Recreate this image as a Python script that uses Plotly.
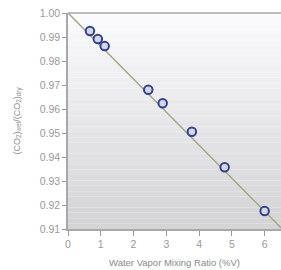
import plotly.graph_objects as go

x_vals = [0.67, 0.91, 1.12, 2.45, 2.89, 3.78, 4.78, 6.0]
y_vals = [0.9925, 0.9892, 0.9862, 0.9680, 0.9624, 0.9505, 0.9357, 0.9175]
fit_x = [0.0, 6.5]
fit_y = [1.0, 0.9105]
y_ticks = [0.91, 0.92, 0.93, 0.94, 0.95, 0.96, 0.97, 0.98, 0.99, 1.00]
y_ticklabels = ["0.91", "0.92", "0.93", "0.94", "0.95", "0.96", "0.97", "0.98", "0.99", "1.00"]
x_ticks = [0, 1, 2, 3, 4, 5, 6]

fig = go.Figure()

# gradient background
n = 40
top = (251, 251, 252)
bot = (210, 211, 213)
shapes = []
for i in range(n):
    t = (i + 0.5) / n
    c = tuple(int(round(top[k] + (bot[k] - top[k]) * t)) for k in range(3))
    shapes.append(dict(type="rect", xref="x domain", yref="y domain",
                       x0=0, x1=1, y0=1 - (i + 1) / n, y1=1 - i / n,
                       fillcolor="rgb(%d,%d,%d)" % c, line=dict(width=0), layer="below"))
# top border
shapes.append(dict(type="line", xref="x domain", yref="y domain", x0=0, x1=1, y0=1, y1=1,
                   line=dict(color="#a8a8a8", width=1.5)))

fig.add_trace(go.Scatter(x=fit_x, y=fit_y, mode="lines",
                         line=dict(color="#a2a883", width=1.5), hoverinfo="skip"))
fig.add_trace(go.Scatter(x=x_vals, y=y_vals, mode="markers",
                         marker=dict(size=8.5, color="#d4d8e6",
                                     line=dict(color="#34408f", width=2))))

fig.update_layout(
    width=281, height=270,
    margin=dict(l=68, r=0, t=13, b=41),
    paper_bgcolor="white", plot_bgcolor="white",
    showlegend=False,
    shapes=shapes,
    font=dict(family="Liberation Sans, Arial, sans-serif", color="#8a8a8a", size=10),
    xaxis=dict(range=[0, 6.5], tickvals=x_ticks, ticks="outside", ticklen=5,
               tickcolor="#999", showgrid=False, zeroline=False, showline=True,
               linecolor="#a8a8a8", linewidth=1.5, automargin=False,
               ticklabeloverflow="allow",
               title=dict(text="Water Vapor Mixing Ratio (%V)", font=dict(size=9.5, color="#8a8a8a"),
                          standoff=10),
               tickfont=dict(size=10.5, color="#999")),
    yaxis=dict(range=[0.91, 1.0], tickvals=y_ticks, ticktext=y_ticklabels, ticks="outside",
               ticklen=4, tickcolor="#999", showgrid=False, zeroline=False, showline=True,
               linecolor="#a8a8a8", linewidth=1.5, automargin=False,
               ticklabeloverflow="allow",
               title=dict(text="(CO<sub>2</sub>)<sub>wet</sub>/(CO<sub>2</sub>)<sub>dry</sub>",
                          font=dict(size=9, color="#8a8a8a"), standoff=18),
               tickfont=dict(size=10.5, color="#999")),
)

fig.write_html("out.html", config={"displayModeBar": False},
               post_script="document.body.style.margin='0';document.body.style.overflow='hidden';")
